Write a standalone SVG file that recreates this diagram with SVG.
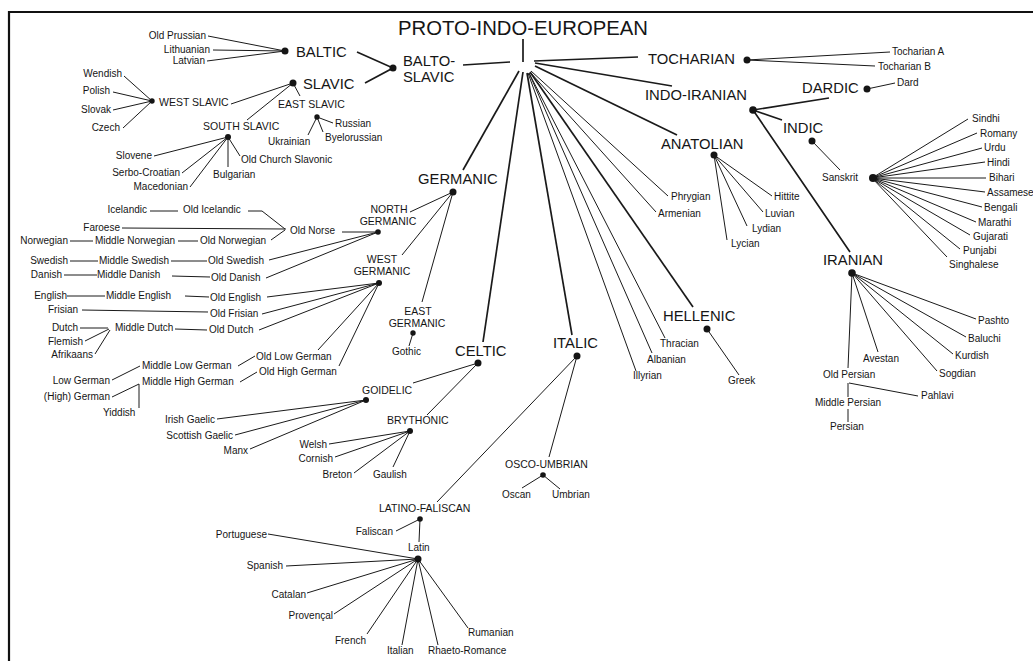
<svg xmlns="http://www.w3.org/2000/svg" width="1033" height="661" viewBox="0 0 1033 661">
<style>
text{font-family:"Liberation Sans",Arial,sans-serif;fill:#151515}
.t1{font-size:20px}
.t2{font-size:14.8px}
.t3{font-size:10.5px}
.t4{font-size:10px}
.e{text-anchor:end}
.m{text-anchor:middle}
.c{stroke:#1a1a1a;stroke-width:1;fill:none}
.b{stroke:#1a1a1a;stroke-width:1.7;fill:none}
.d{fill:#151515}
</style>
<rect width="1033" height="661" fill="#fff"/>
<path d="M9,661 V12 H1033" fill="none" stroke="#111" stroke-width="2.2"/>

<g id="connectors">
<!-- root -->
<path class="b" d="M523,39 V62"/>
<path class="b" d="M463,65 L510,62"/>
<path class="b" d="M534,61 L638,57"/>
<path class="b" d="M535,63 L672,86"/>
<path class="b" d="M535,66 L677,135"/>
<path class="c" d="M531,71 L668,196"/>
<path class="c" d="M530,72 L656,212"/>
<path class="b" d="M530,72 L693,307"/>
<path class="c" d="M529,73 L665,338"/>
<path class="c" d="M529,73 L652,353"/>
<path class="c" d="M528,73 L636,371"/>
<path class="b" d="M527,73 L572,335"/>
<path class="b" d="M523,72 L483,342"/>
<path class="b" d="M519,71 L463,170"/>
<!-- balto-slavic -->
<path class="b" d="M357,52 L393,68 L365,83"/>
<path class="c" d="M208,36 L285,51 M213,50 L285,51 M207,61 L285,51"/>
<path class="c" d="M231,104 L293,83 M293,83 L247,120 M293,83 L300,96"/>
<path class="c" d="M124,76 L152,101 M113,92 L152,101 M113,110 L152,101 M123,128 L152,101"/>
<path class="c" d="M154,156 L228,137 M182,173 L228,137 M190,187 L228,137 M228,137 V167 M228,137 L240,156"/>
<path class="c" d="M317,117 L333,123 M317,117 L323,132 M317,117 L308,135"/>
<!-- tocharian -->
<path class="c" d="M747,60 L890,52 M747,60 L875,66"/>
<!-- indo-iranian -->
<path class="b" d="M753,110 L829,98 M753,110 L782,120 M753,110 L850,252"/>
<path class="c" d="M867,89 L895,83"/>
<path class="c" d="M812,141 L840,170"/>
<path class="c" d="M872,178 L968,119 M872,178 L977,133 M872,178 L982,148 M872,178 L985,162 M872,178 L986,178 M872,178 L985,192 M872,178 L982,207 M872,178 L976,222 M872,178 L970,235 M872,178 L960,249 M872,178 L947,257"/>
<path class="c" d="M852,273 L976,319 M852,273 L966,337 M852,273 L953,354 M852,273 L937,371 M852,273 L878,352 M852,273 L848,368"/>
<path class="c" d="M848,383 V397 M849,383 L918,396 M848,409 V422"/>
<!-- anatolian -->
<path class="c" d="M714,155 L772,196 M714,155 L763,212 M714,155 L747,226 M714,155 L727,240"/>
<!-- hellenic -->
<path class="c" d="M707,329 L739,375"/>
<!-- germanic -->
<path class="c" d="M453,192 L410,212 M453,192 L402,255 M453,192 L422,302"/>
<path class="c" d="M342,232 L378,232"/>
<path class="c" d="M150,211 L178,211 M248,211 L262,211 L285,229 M122,228 L286,229 M271,240 L285,230"/>
<path class="c" d="M70,241 L93,241 M178,241 L198,241"/>
<path class="c" d="M70,261 L98,261 M171,261 L207,261 M64,275 L97,275 M172,276 L210,277"/>
<path class="c" d="M269,260 L378,232 M266,278 L378,232"/>
<path class="c" d="M67,296 L105,296 M185,296 L209,297 M82,310 L208,312 M80,328 L108,328 M175,329 L207,330 M85,341 L109,329 M95,354 L110,330"/>
<path class="c" d="M267,297 L379,283 M262,314 L379,283 M259,330 L379,283 M318,350 L379,283 M339,366 L379,283"/>
<path class="c" d="M238,366 L255,356 M240,382 L257,372 M112,380 L140,366 M112,397 L139,384 M139,384 V408"/>
<path class="c" d="M413,333 L409,346"/>
<!-- celtic -->
<path class="c" d="M478,363 L413,383 M478,363 L427,415"/>
<path class="c" d="M217,419 L366,400 M235,435 L366,400 M250,449 L366,400"/>
<path class="c" d="M329,444 L410,431 M335,457 L410,431 M354,473 L410,431 M393,467 L410,431"/>
<!-- italic -->
<path class="c" d="M577,356 L549,457 M577,356 L437,502"/>
<path class="c" d="M543,475 L522,488 M543,475 L560,489"/>
<path class="c" d="M396,531 L420,519 L419,542"/>
<path class="c" d="M268,534 L418,559 M286,566 L418,559 M307,593 L418,559 M334,614 L418,559 M367,634 L418,559 M402,645 L418,559 M438,645 L418,559 M468,628 L418,559"/>
</g>

<g id="pie"><text class="t1" x="398" y="35" textLength="250" lengthAdjust="spacingAndGlyphs">PROTO-INDO-EUROPEAN</text></g>

<g id="balto-slavic"><text class="t2" x="403" y="66">BALTO-</text><text class="t2" x="403" y="82">SLAVIC</text><circle class="d" cx="393" cy="68" r="3.5"/></g>
<g id="baltic"><text class="t2" x="296" y="57">BALTIC</text><circle class="d" cx="285" cy="51" r="3.5"/></g>
<g id="old-prussian"><text class="t4 e" x="206" y="39">Old Prussian</text></g>
<g id="lithuanian"><text class="t4 e" x="210" y="53">Lithuanian</text></g>
<g id="latvian"><text class="t4 e" x="205" y="64">Latvian</text></g>
<g id="slavic"><text class="t2" x="303" y="89">SLAVIC</text><circle class="d" cx="293" cy="83" r="3.5"/></g>
<g id="west-slavic"><text class="t3" x="159" y="106">WEST SLAVIC</text><circle class="d" cx="152" cy="101" r="2.7"/></g>
<g id="wendish"><text class="t4 e" x="122" y="77">Wendish</text></g>
<g id="polish"><text class="t4 e" x="110" y="94">Polish</text></g>
<g id="slovak"><text class="t4 e" x="111" y="113">Slovak</text></g>
<g id="czech"><text class="t4 e" x="120" y="131">Czech</text></g>
<g id="south-slavic"><text class="t3" x="203" y="130">SOUTH SLAVIC</text><circle class="d" cx="228" cy="137" r="3"/></g>
<g id="slovene"><text class="t4 e" x="152" y="159">Slovene</text></g>
<g id="serbo-croatian"><text class="t4 e" x="180" y="176">Serbo-Croatian</text></g>
<g id="macedonian"><text class="t4 e" x="188" y="190">Macedonian</text></g>
<g id="bulgarian"><text class="t4" x="213" y="178">Bulgarian</text></g>
<g id="old-church-slavonic"><text class="t4" x="241" y="163">Old Church Slavonic</text></g>
<g id="east-slavic"><text class="t3" x="278" y="108">EAST SLAVIC</text><circle class="d" cx="317" cy="117" r="2.7"/></g>
<g id="russian"><text class="t4" x="335" y="127">Russian</text></g>
<g id="byelorussian"><text class="t4" x="325" y="141">Byelorussian</text></g>
<g id="ukrainian"><text class="t4" x="268" y="145">Ukrainian</text></g>

<g id="tocharian"><text class="t2" x="648" y="64">TOCHARIAN</text><circle class="d" cx="747" cy="60" r="3.5"/></g>
<g id="tocharian-a"><text class="t4" x="892" y="55">Tocharian A</text></g>
<g id="tocharian-b"><text class="t4" x="878" y="70">Tocharian B</text></g>

<g id="indo-iranian"><text class="t2" x="645" y="100">INDO-IRANIAN</text><circle class="d" cx="753" cy="110" r="3.8"/></g>
<g id="dardic"><text class="t2" x="802" y="93">DARDIC</text><circle class="d" cx="867" cy="89" r="3.5"/></g>
<g id="dard"><text class="t4" x="897" y="86">Dard</text></g>
<g id="indic"><text class="t2" x="783" y="133">INDIC</text><circle class="d" cx="812" cy="141" r="3.5"/></g>
<g id="sanskrit"><text class="t4" x="822" y="181">Sanskrit</text><circle class="d" cx="873" cy="178" r="4"/></g>
<g id="sindhi"><text class="t4" x="972" y="122">Sindhi</text></g>
<g id="romany"><text class="t4" x="980" y="137">Romany</text></g>
<g id="urdu"><text class="t4" x="984" y="151">Urdu</text></g>
<g id="hindi"><text class="t4" x="987" y="166">Hindi</text></g>
<g id="bihari"><text class="t4" x="989" y="181">Bihari</text></g>
<g id="assamese"><text class="t4" x="987" y="196">Assamese</text></g>
<g id="bengali"><text class="t4" x="984" y="211">Bengali</text></g>
<g id="marathi"><text class="t4" x="978" y="226">Marathi</text></g>
<g id="gujarati"><text class="t4" x="973" y="240">Gujarati</text></g>
<g id="punjabi"><text class="t4" x="963" y="254">Punjabi</text></g>
<g id="singhalese"><text class="t4" x="949" y="268">Singhalese</text></g>
<g id="iranian"><text class="t2" x="823" y="265">IRANIAN</text><circle class="d" cx="852" cy="273" r="3.8"/></g>
<g id="pashto"><text class="t4" x="978" y="324">Pashto</text></g>
<g id="baluchi"><text class="t4" x="968" y="342">Baluchi</text></g>
<g id="kurdish"><text class="t4" x="955" y="359">Kurdish</text></g>
<g id="sogdian"><text class="t4" x="939" y="377">Sogdian</text></g>
<g id="avestan"><text class="t4" x="863" y="362">Avestan</text></g>
<g id="old-persian"><text class="t4" x="823" y="378">Old Persian</text></g>
<g id="middle-persian"><text class="t4" x="815" y="406">Middle Persian</text></g>
<g id="pahlavi"><text class="t4" x="921" y="399">Pahlavi</text></g>
<g id="persian"><text class="t4" x="830" y="430">Persian</text></g>

<g id="anatolian"><text class="t2" x="661" y="149">ANATOLIAN</text><circle class="d" cx="714" cy="155" r="3.5"/></g>
<g id="hittite"><text class="t4" x="774" y="200">Hittite</text></g>
<g id="luvian"><text class="t4" x="765" y="217">Luvian</text></g>
<g id="lydian"><text class="t4" x="752" y="232">Lydian</text></g>
<g id="lycian"><text class="t4" x="731" y="247">Lycian</text></g>
<g id="phrygian"><text class="t4" x="671" y="200">Phrygian</text></g>
<g id="armenian"><text class="t4" x="658" y="217">Armenian</text></g>

<g id="hellenic"><text class="t2" x="663" y="321">HELLENIC</text><circle class="d" cx="707" cy="329" r="3.5"/></g>
<g id="greek"><text class="t4" x="728" y="384">Greek</text></g>
<g id="thracian"><text class="t4" x="660" y="347">Thracian</text></g>
<g id="albanian"><text class="t4" x="647" y="363">Albanian</text></g>
<g id="illyrian"><text class="t4" x="633" y="379">Illyrian</text></g>

<g id="germanic"><text class="t2" x="418" y="184">GERMANIC</text><circle class="d" cx="453" cy="192" r="3.5"/></g>
<g id="north-germanic"><text class="t3 m" x="389" y="213">NORTH</text><text class="t3 m" x="388" y="225">GERMANIC</text><circle class="d" cx="378" cy="232" r="2.8"/></g>
<g id="old-norse"><text class="t4" x="290" y="234">Old Norse</text></g>
<g id="icelandic"><text class="t4 e" x="147" y="213">Icelandic</text></g>
<g id="old-icelandic"><text class="t4" x="183" y="213">Old Icelandic</text></g>
<g id="faroese"><text class="t4 e" x="120" y="231">Faroese</text></g>
<g id="norwegian"><text class="t4 e" x="68" y="244">Norwegian</text></g>
<g id="middle-norwegian"><text class="t4" x="95" y="244">Middle Norwegian</text></g>
<g id="old-norwegian"><text class="t4" x="200" y="244">Old Norwegian</text></g>
<g id="swedish"><text class="t4 e" x="68" y="264">Swedish</text></g>
<g id="middle-swedish"><text class="t4" x="99" y="264">Middle Swedish</text></g>
<g id="old-swedish"><text class="t4" x="208" y="264">Old Swedish</text></g>
<g id="danish"><text class="t4 e" x="62" y="278">Danish</text></g>
<g id="middle-danish"><text class="t4" x="97" y="278">Middle Danish</text></g>
<g id="old-danish"><text class="t4" x="211" y="281">Old Danish</text></g>
<g id="west-germanic"><text class="t3 m" x="382" y="263">WEST</text><text class="t3 m" x="382" y="275">GERMANIC</text><circle class="d" cx="379" cy="283" r="3"/></g>
<g id="english"><text class="t4 e" x="67" y="299">English</text></g>
<g id="middle-english"><text class="t4" x="106" y="299">Middle English</text></g>
<g id="old-english"><text class="t4" x="210" y="301">Old English</text></g>
<g id="frisian"><text class="t4" x="48" y="313">Frisian</text></g>
<g id="old-frisian"><text class="t4" x="210" y="317">Old Frisian</text></g>
<g id="dutch"><text class="t4 e" x="78" y="331">Dutch</text></g>
<g id="middle-dutch"><text class="t4" x="115" y="331">Middle Dutch</text></g>
<g id="old-dutch"><text class="t4" x="209" y="333">Old Dutch</text></g>
<g id="flemish"><text class="t4 e" x="83" y="345">Flemish</text></g>
<g id="afrikaans"><text class="t4 e" x="93" y="358">Afrikaans</text></g>
<g id="old-low-german"><text class="t4" x="256" y="360">Old Low German</text></g>
<g id="old-high-german"><text class="t4" x="259" y="375">Old High German</text></g>
<g id="middle-low-german"><text class="t4" x="142" y="369">Middle Low German</text></g>
<g id="middle-high-german"><text class="t4" x="142" y="385">Middle High German</text></g>
<g id="low-german"><text class="t4 e" x="110" y="384">Low German</text></g>
<g id="high-german"><text class="t4 e" x="110" y="400">(High) German</text></g>
<g id="yiddish"><text class="t4" x="103" y="416">Yiddish</text></g>
<g id="east-germanic"><text class="t3 m" x="418" y="315">EAST</text><text class="t3 m" x="417" y="327">GERMANIC</text><circle class="d" cx="413" cy="333" r="2.7"/></g>
<g id="gothic"><text class="t4" x="392" y="355">Gothic</text></g>

<g id="celtic"><text class="t2" x="455" y="356">CELTIC</text><circle class="d" cx="478" cy="363" r="3.5"/></g>
<g id="goidelic"><text class="t3" x="362" y="394">GOIDELIC</text><circle class="d" cx="366" cy="400" r="3"/></g>
<g id="irish-gaelic"><text class="t4 e" x="215" y="423">Irish Gaelic</text></g>
<g id="scottish-gaelic"><text class="t4 e" x="233" y="439">Scottish Gaelic</text></g>
<g id="manx"><text class="t4 e" x="248" y="454">Manx</text></g>
<g id="brythonic"><text class="t3" x="387" y="424">BRYTHONIC</text><circle class="d" cx="410" cy="431" r="3"/></g>
<g id="welsh"><text class="t4 e" x="327" y="448">Welsh</text></g>
<g id="cornish"><text class="t4 e" x="333" y="462">Cornish</text></g>
<g id="breton"><text class="t4 e" x="352" y="478">Breton</text></g>
<g id="gaulish"><text class="t4" x="373" y="478">Gaulish</text></g>

<g id="italic"><text class="t2" x="553" y="348">ITALIC</text><circle class="d" cx="577" cy="356" r="3.5"/></g>
<g id="osco-umbrian"><text class="t3" x="505" y="468">OSCO-UMBRIAN</text><circle class="d" cx="543" cy="475" r="2.8"/></g>
<g id="oscan"><text class="t4" x="502" y="498">Oscan</text></g>
<g id="umbrian"><text class="t4" x="552" y="498">Umbrian</text></g>
<g id="latino-faliscan"><text class="t3" x="379" y="512">LATINO-FALISCAN</text><circle class="d" cx="420" cy="519" r="2.8"/></g>
<g id="faliscan"><text class="t4 e" x="393" y="535">Faliscan</text></g>
<g id="latin"><text class="t4" x="408" y="551">Latin</text><circle class="d" cx="418" cy="559" r="3.5"/></g>
<g id="portuguese"><text class="t4 e" x="267" y="538">Portuguese</text></g>
<g id="spanish"><text class="t4 e" x="283" y="569">Spanish</text></g>
<g id="catalan"><text class="t4 e" x="306" y="598">Catalan</text></g>
<g id="provencal"><text class="t4 e" x="333" y="619">Provençal</text></g>
<g id="french"><text class="t4 e" x="366" y="644">French</text></g>
<g id="italian"><text class="t4" x="387" y="654">Italian</text></g>
<g id="rhaeto-romance"><text class="t4" x="428" y="654">Rhaeto-Romance</text></g>
<g id="rumanian"><text class="t4" x="468" y="636">Rumanian</text></g>
</svg>
